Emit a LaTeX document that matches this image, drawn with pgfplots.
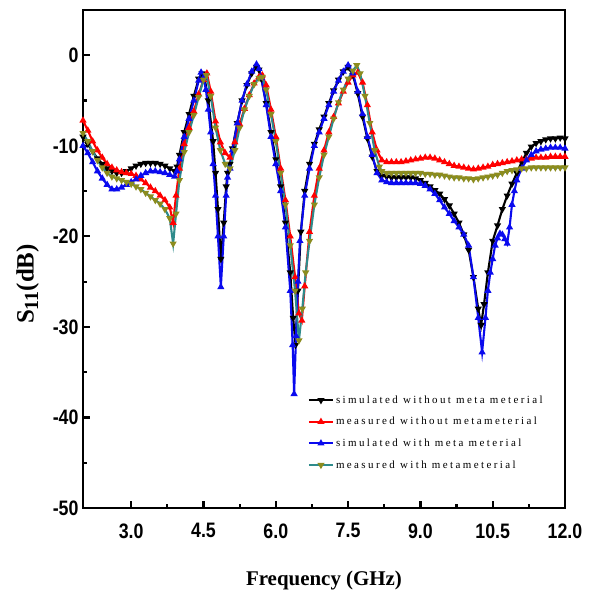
\documentclass[border=0pt]{standalone}
\usepackage{fontspec}
\setmainfont{Liberation Serif}
\setsansfont[FakeStretch=0.85]{Liberation Sans}
\newfontfamily\legfont[LetterSpace=22]{Liberation Serif}
\usepackage{pgfplots}
\pgfplotsset{compat=1.18}
\definecolor{simblk}{HTML}{000000}
\definecolor{measred}{HTML}{FF0000}
\definecolor{simblue}{HTML}{0A0AEE}
\definecolor{measteal}{HTML}{2E8B8B}
\definecolor{measolive}{HTML}{8C8C1E}

\begin{document}
\begin{tikzpicture}

\begin{axis}[
  name=ax,
  scale only axis, width=482bp, height=498bp,
  xmin=2, xmax=12, ymin=-50, ymax=5,
  xtick={3,4.5,6,7.5,9,10.5,12},
  ytick={-50,-40,-30,-20,-10,0},
  minor x tick num=1, minor y tick num=1,
  tick pos=left, tick align=inside,
  major tick length=7bp, minor tick length=4bp,
  every tick/.style={line width=2.2bp, black},
  axis line style={line width=2.6bp},
  tick label style={font=\fontsize{21}{22}\selectfont\sffamily\bfseries},
  /pgf/number format/assume math mode=true,
  xticklabel style={/pgf/number format/fixed, /pgf/number format/fixed zerofill,
    /pgf/number format/precision=1, yshift=-12bp},
  yticklabel style={xshift=-1bp},
  xlabel={\textbf{Frequency (GHz)}},
  ylabel={\textbf{S\raisebox{-0.4ex}{\fontsize{20}{20}\selectfont 11}(dB)}},
  xlabel style={font=\fontsize{21}{22}\selectfont, yshift=-26bp},
  ylabel style={font=\fontsize{25}{26}\selectfont, yshift=7bp, xshift=-25bp},
  legend cell align=left,
  legend style={draw=none, fill=none, at={(0.46,0.234)}, anchor=north west,
    font=\fontsize{11}{12}\selectfont\legfont, row sep=8.5bp,
    /tikz/every even column/.append style={column sep=1bp}},
  legend image code/.code={
    \draw[mark repeat=2, mark phase=2] plot coordinates {(0bp,0bp)(12bp,0bp)(24bp,0bp)};},
  every axis plot/.append style={line width=2.1bp, mark size=2.1bp},
]

\addplot[simblk, mark=triangle*, mark options={rotate=180, solid}] coordinates {
(2.0,-9.0)(2.1,-9.8)(2.2,-10.6)(2.3,-11.4)(2.4,-12.0)(2.5,-12.5)(2.6,-12.8)(2.7,-13.0)(2.8,-13.0)(2.9,-12.8)
(3.0,-12.5)(3.1,-12.2)(3.2,-12.0)(3.3,-11.9)(3.4,-11.9)(3.5,-11.9)(3.6,-12.0)(3.7,-12.2)(3.8,-12.5)(3.9,-12.8)
(3.95,-12.3)(4.0,-11.0)(4.1,-8.5)(4.2,-6.5)(4.3,-4.5)(4.4,-2.6)(4.47,-2.0)(4.52,-2.4)(4.6,-5.0)(4.7,-9.5)
(4.75,-13.0)(4.8,-17.0)(4.86,-22.5)(4.92,-18.5)(4.97,-14.5)(5.0,-13.0)(5.05,-12.0)(5.1,-10.3)(5.2,-7.5)(5.3,-5.0)
(5.4,-3.3)(5.5,-2.0)(5.6,-1.3)(5.65,-1.6)(5.7,-2.6)(5.8,-5.3)(5.9,-8.5)(6.0,-11.5)(6.1,-14.5)(6.2,-18.5)
(6.3,-24.0)(6.36,-29.0)(6.41,-32.0)(6.46,-26.0)(6.52,-19.5)(6.6,-15.0)(6.7,-12.0)(6.8,-9.8)(6.9,-8.2)(7.0,-6.8)
(7.1,-5.3)(7.2,-3.9)(7.3,-2.7)(7.4,-1.8)(7.5,-1.3)(7.6,-2.2)(7.7,-4.2)(7.8,-6.8)(7.9,-9.2)(8.0,-11.2)
(8.1,-12.8)(8.2,-13.3)(8.3,-13.4)(8.4,-13.5)(8.5,-13.5)(8.6,-13.5)(8.7,-13.5)(8.8,-13.5)(8.9,-13.6)(9.0,-13.8)
(9.1,-14.1)(9.2,-14.5)(9.3,-14.9)(9.4,-15.3)(9.5,-15.9)(9.6,-16.6)(9.7,-17.5)(9.8,-18.5)(9.9,-19.8)(10.0,-21.5)
(10.1,-24.5)(10.2,-28.0)(10.26,-29.8)(10.32,-27.5)(10.4,-24.0)(10.5,-20.5)(10.6,-18.8)(10.7,-17.0)(10.8,-15.5)(10.9,-14.2)
(11.0,-13.0)(11.1,-11.8)(11.2,-10.8)(11.3,-10.1)(11.4,-9.7)(11.5,-9.5)(11.6,-9.3)(11.7,-9.2)(11.8,-9.2)(11.9,-9.1)(12.0,-9.2)};
\addlegendentry{simulated without meta meterial}

\addplot[measred, mark=triangle*, mark options={solid}] coordinates {
(2.0,-7.2)(2.1,-8.3)(2.2,-9.5)(2.3,-10.5)(2.4,-11.3)(2.5,-12.0)(2.6,-12.4)(2.7,-12.7)(2.8,-12.9)(2.9,-13.0)
(3.0,-13.1)(3.1,-13.3)(3.2,-13.7)(3.3,-14.1)(3.4,-14.6)(3.5,-15.0)(3.6,-15.5)(3.7,-16.0)(3.8,-16.8)(3.87,-18.5)
(3.93,-15.5)(4.0,-12.5)(4.1,-9.8)(4.2,-8.0)(4.3,-6.2)(4.4,-4.3)(4.5,-2.7)(4.57,-2.0)(4.65,-4.0)(4.75,-7.3)
(4.85,-9.6)(4.95,-10.8)(5.05,-11.3)(5.15,-9.6)(5.25,-7.6)(5.35,-5.9)(5.45,-4.4)(5.55,-3.1)(5.65,-2.4)(5.72,-2.2)
(5.8,-3.3)(5.9,-6.0)(6.0,-9.0)(6.1,-12.5)(6.2,-16.0)(6.3,-20.0)(6.4,-24.5)(6.48,-28.5)(6.54,-29.3)(6.6,-25.5)
(6.7,-19.5)(6.8,-15.5)(6.9,-12.5)(7.0,-10.5)(7.1,-8.5)(7.2,-6.8)(7.3,-5.3)(7.4,-4.0)(7.5,-3.0)(7.6,-2.2)
(7.7,-1.9)(7.8,-3.0)(7.9,-5.5)(8.0,-8.5)(8.1,-10.5)(8.2,-11.6)(8.3,-11.8)(8.4,-11.8)(8.5,-11.8)(8.6,-11.8)
(8.7,-11.7)(8.8,-11.6)(8.9,-11.5)(9.0,-11.4)(9.1,-11.3)(9.2,-11.3)(9.3,-11.4)(9.4,-11.6)(9.5,-11.8)(9.6,-12.0)
(9.7,-12.2)(9.8,-12.3)(9.9,-12.4)(10.0,-12.5)(10.1,-12.6)(10.2,-12.5)(10.3,-12.4)(10.4,-12.3)(10.5,-12.1)(10.6,-12.0)
(10.7,-11.9)(10.8,-11.8)(10.9,-11.7)(11.0,-11.6)(11.1,-11.5)(11.2,-11.5)(11.3,-11.4)(11.4,-11.3)(11.5,-11.3)(11.6,-11.3)
(11.7,-11.2)(11.8,-11.2)(11.9,-11.2)(12.0,-11.2)};
\addlegendentry{measured without metameterial}

\addplot[simblue, mark=triangle*, mark options={solid}] coordinates {
(2.0,-10.0)(2.1,-10.8)(2.2,-11.8)(2.3,-12.8)(2.4,-13.6)(2.5,-14.3)(2.6,-14.8)(2.7,-14.8)(2.8,-14.6)(2.9,-14.3)
(3.0,-14.0)(3.1,-13.7)(3.2,-13.3)(3.3,-13.0)(3.4,-12.8)(3.5,-12.8)(3.6,-12.9)(3.7,-13.0)(3.8,-13.2)(3.9,-13.4)
(3.95,-12.8)(4.0,-11.5)(4.1,-9.0)(4.2,-7.0)(4.3,-5.0)(4.4,-2.8)(4.45,-1.9)(4.5,-2.5)(4.55,-3.8)(4.6,-6.0)
(4.65,-8.5)(4.7,-12.0)(4.75,-15.5)(4.8,-20.0)(4.86,-25.6)(4.92,-20.0)(4.97,-15.5)(5.0,-13.5)(5.05,-12.5)(5.1,-10.5)
(5.2,-7.5)(5.3,-5.0)(5.4,-3.2)(5.5,-1.8)(5.6,-1.0)(5.65,-1.5)(5.7,-2.5)(5.8,-5.5)(5.9,-9.0)(6.0,-12.0)
(6.1,-15.0)(6.2,-19.0)(6.3,-26.0)(6.35,-32.0)(6.38,-37.4)(6.42,-31.0)(6.46,-25.0)(6.5,-20.5)(6.6,-15.5)(6.7,-12.5)
(6.8,-10.0)(6.9,-8.5)(7.0,-7.0)(7.1,-5.5)(7.2,-4.0)(7.3,-2.8)(7.4,-1.8)(7.5,-1.1)(7.6,-2.0)(7.7,-4.0)
(7.8,-6.5)(7.9,-9.0)(8.0,-11.0)(8.1,-13.0)(8.2,-13.8)(8.3,-14.0)(8.4,-14.1)(8.5,-14.1)(8.6,-14.1)(8.7,-14.1)
(8.8,-14.1)(8.9,-14.1)(9.0,-14.2)(9.1,-14.4)(9.2,-14.8)(9.3,-15.3)(9.4,-16.0)(9.5,-16.8)(9.6,-17.5)(9.7,-18.3)
(9.8,-19.0)(9.9,-19.8)(10.0,-21.0)(10.1,-24.5)(10.2,-29.0)(10.28,-32.8)(10.35,-29.0)(10.4,-26.0)(10.45,-24.0)(10.5,-22.5)
(10.55,-21.0)(10.6,-20.2)(10.65,-19.7)(10.7,-19.8)(10.75,-20.3)(10.8,-20.8)(10.85,-19.0)(10.9,-16.5)(10.95,-15.0)(11.0,-13.8)
(11.1,-12.5)(11.2,-11.6)(11.3,-11.0)(11.4,-10.6)(11.5,-10.4)(11.6,-10.3)(11.7,-10.2)(11.8,-10.2)(11.9,-10.2)(12.0,-10.3)};
\addlegendentry{simulated with meta meterial}

\addplot[measteal, mark=triangle*, mark options={rotate=180, solid, fill=measolive, draw=measolive}] coordinates {
(2.0,-8.6)(2.1,-9.5)(2.2,-10.6)(2.3,-11.6)(2.4,-12.4)(2.5,-13.0)(2.6,-13.4)(2.7,-13.6)(2.8,-13.8)(2.9,-14.0)
(3.0,-14.2)(3.1,-14.5)(3.2,-14.8)(3.3,-15.2)(3.4,-15.6)(3.5,-16.0)(3.6,-16.4)(3.7,-17.0)(3.8,-18.0)(3.87,-20.8)
(3.93,-17.5)(4.0,-13.8)(4.1,-10.7)(4.2,-8.5)(4.3,-6.6)(4.4,-4.6)(4.5,-2.7)(4.56,-2.2)(4.65,-4.5)(4.75,-8.0)
(4.85,-10.5)(4.95,-12.0)(5.05,-12.5)(5.15,-10.5)(5.25,-8.0)(5.35,-6.0)(5.45,-4.5)(5.55,-3.2)(5.65,-2.5)(5.72,-2.4)
(5.8,-3.8)(5.9,-6.5)(6.0,-9.5)(6.1,-13.0)(6.2,-16.5)(6.3,-21.0)(6.4,-26.0)(6.48,-31.5)(6.55,-28.0)(6.62,-24.0)
(6.7,-20.5)(6.8,-16.5)(6.9,-13.5)(7.0,-11.0)(7.1,-9.0)(7.2,-7.0)(7.3,-5.2)(7.4,-3.8)(7.5,-2.6)(7.6,-1.7)
(7.68,-1.1)(7.75,-2.0)(7.85,-4.5)(7.95,-7.5)(8.05,-10.5)(8.15,-12.3)(8.2,-12.8)(8.3,-13.0)(8.4,-13.0)(8.5,-13.0)
(8.6,-13.0)(8.7,-13.0)(8.8,-13.0)(8.9,-13.0)(9.0,-13.0)(9.1,-13.1)(9.2,-13.1)(9.3,-13.2)(9.4,-13.2)(9.5,-13.3)
(9.6,-13.4)(9.7,-13.5)(9.8,-13.5)(9.9,-13.6)(10.0,-13.6)(10.1,-13.7)(10.2,-13.6)(10.3,-13.5)(10.4,-13.4)(10.5,-13.3)
(10.6,-13.2)(10.7,-13.0)(10.8,-12.8)(10.9,-12.7)(11.0,-12.6)(11.1,-12.5)(11.2,-12.5)(11.3,-12.4)(11.4,-12.4)(11.5,-12.4)
(11.6,-12.4)(11.7,-12.4)(11.8,-12.4)(11.9,-12.4)(12.0,-12.4)};
\addlegendentry{measured with metameterial}

\end{axis}

\pgfresetboundingbox
\path[use as bounding box] ([shift={(-83bp,-84bp)}]ax.south west) rectangle ([shift={(29bp,10bp)}]ax.north east);

\end{tikzpicture}
\end{document}
